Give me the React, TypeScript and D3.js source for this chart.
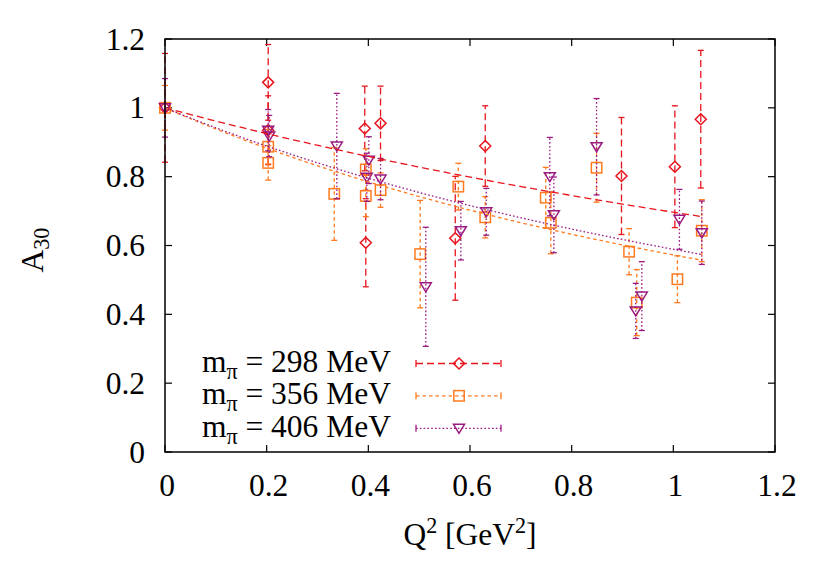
import React from "react";
import * as d3 from "d3";

const xTicks = [0, 0.2, 0.4, 0.6, 0.8, 1, 1.2];
const yTicks = [0, 0.2, 0.4, 0.6, 0.8, 1, 1.2];

const redQ2 = [0, 0.203, 0.203, 0.393, 0.395, 0.424, 0.571, 0.63, 0.898, 1.003, 1.054];
const redA = [1.0, 1.074, 0.935, 0.94, 0.608, 0.955, 0.621, 0.889, 0.802, 0.829, 0.967];
const redErr = [0.158, 0.11, 0.1, 0.123, 0.128, 0.108, 0.18, 0.117, 0.17, 0.177, 0.2];

const orangeQ2 = [0, 0.203, 0.203, 0.333, 0.395, 0.395, 0.424, 0.502, 0.577, 0.63, 0.749, 0.759, 0.849, 0.913, 0.928, 1.008, 1.056];
const orangeA = [1.0, 0.887, 0.84, 0.75, 0.821, 0.744, 0.761, 0.575, 0.771, 0.682, 0.739, 0.666, 0.826, 0.582, 0.434, 0.502, 0.643];
const orangeErr = [0.065, 0.05, 0.05, 0.135, 0.06, 0.06, 0.05, 0.156, 0.068, 0.06, 0.088, 0.09, 0.1, 0.067, 0.096, 0.068, 0.09];

const purpleQ2 = [0, 0.203, 0.205, 0.338, 0.401, 0.397, 0.424, 0.513, 0.582, 0.632, 0.757, 0.765, 0.849, 0.926, 0.938, 1.012, 1.056];
const purpleA = [1.0, 0.935, 0.918, 0.889, 0.848, 0.798, 0.793, 0.48, 0.643, 0.698, 0.8, 0.689, 0.887, 0.41, 0.453, 0.676, 0.637];
const purpleErr = [0.085, 0.06, 0.06, 0.153, 0.068, 0.07, 0.06, 0.173, 0.085, 0.068, 0.114, 0.11, 0.14, 0.08, 0.1, 0.087, 0.092];

const seriesNames = ["298", "356", "406"];
// dipole fit parameters (M^2 in GeV^2) and fit range
const fitMassSq = [5.05, 3.11, 3.3];
const fitRange = [0, 1.055];

const colors = ["#e8141c", "#ff7a1f", "#9a1a82"];
const dashes = ["7,4", "3.5,3", "1.6,2.2"];
const shapes = ["diamond", "square", "triangle"];

const W = 830, H = 581;
const L = 165, R = 775, T = 39, B = 452;
const FONT = "Liberation Serif, Times New Roman, serif";
const FS = 31.5;

function Marker({ shape, x, y, color }: any) {
  if (shape === "diamond") {
    const s = 5.5;
    return <path d={`M${x},${y - s}L${x + s},${y}L${x},${y + s}L${x - s},${y}Z`} fill="none" stroke={color} strokeWidth={1.5} />;
  }
  if (shape === "square") {
    const s = 5.2;
    return <rect x={x - s} y={y - s} width={2 * s} height={2 * s} fill="none" stroke={color} strokeWidth={1.5} />;
  }
  const s = 5.5;
  return <path d={`M${x - s},${y - 4}L${x + s},${y - 4}L${x},${y + 5}Z`} fill="none" stroke={color} strokeWidth={1.5} />;
}

export default function App() {
  const x = d3.scaleLinear().domain([0, 1.2]).range([L, R]);
  const y = d3.scaleLinear().domain([0, 1.2]).range([B, T]);

  const series = [
    { q: redQ2, a: redA, e: redErr },
    { q: orangeQ2, a: orangeA, e: orangeErr },
    { q: purpleQ2, a: purpleA, e: purpleErr },
  ];

  const fitPts = d3.range(0, 61).map((i) => fitRange[0] + (fitRange[1] - fitRange[0]) * i / 60);

  const legendY = [363.5, 395.8, 428.3];
  const cap = 3;
  const txt = { fontFamily: FONT, fontSize: FS, fill: "#000" } as any;
  const sub = { fontSize: FS * 0.7 } as any;

  return (
    <svg width={W} height={H} viewBox={`0 0 ${W} ${H}`} style={{ position: "absolute", left: 0, top: 0, background: "#fff" }}>
      <rect x={0} y={0} width={W} height={H} fill="#fff" />
      {/* ticks */}
      {xTicks.map((t, i) => (
        <g key={"xt" + i}>
          <line x1={x(t)} x2={x(t)} y1={B} y2={B - 7} stroke="#000" strokeWidth={1.2} />
          <line x1={x(t)} x2={x(t)} y1={T} y2={T + 7} stroke="#000" strokeWidth={1.2} />
          <text x={x(t) + 2} y={495.5} style={txt} textAnchor="middle">{String(t)}</text>
        </g>
      ))}
      {yTicks.map((t, i) => (
        <g key={"yt" + i}>
          <line x1={L} x2={L + 7} y1={y(t)} y2={y(t)} stroke="#000" strokeWidth={1.2} />
          <line x1={R} x2={R - 7} y1={y(t)} y2={y(t)} stroke="#000" strokeWidth={1.2} />
          <text x={145} y={y(t) + 10.5} style={txt} textAnchor="end">{String(t)}</text>
        </g>
      ))}

      {/* series */}
      {series.map((s, si) => (
        <g key={"s" + si}>
          {s.q.map((q, i) => (
            <g key={i} stroke={colors[si]} strokeWidth={1.3} strokeDasharray={dashes[si]}>
              <line x1={x(q)} x2={x(q)} y1={y(s.a[i] - s.e[i])} y2={y(s.a[i] + s.e[i])} />
              <line x1={x(q) - cap} x2={x(q) + cap} y1={y(s.a[i] - s.e[i])} y2={y(s.a[i] - s.e[i])} strokeDasharray="none" />
              <line x1={x(q) - cap} x2={x(q) + cap} y1={y(s.a[i] + s.e[i])} y2={y(s.a[i] + s.e[i])} strokeDasharray="none" />
            </g>
          ))}
          {s.q.map((q, i) => (
            <Marker key={"m" + i} shape={shapes[si]} x={x(q)} y={y(s.a[i])} color={colors[si]} />
          ))}
        </g>
      ))}
      {/* fits */}
      {fitMassSq.map((m2, si) => (
        <path key={"f" + si}
          d={d3.line<number>().x((q) => x(q)).y((q) => y(1 / Math.pow(1 + q / m2, 2)))(fitPts) || ""}
          fill="none" stroke={colors[si]} strokeWidth={1.3} strokeDasharray={dashes[si]} />
      ))}

      {/* legend */}
      {seriesNames.map((n, i) => (
        <g key={"l" + i}>
          <text x={391} y={legendY[i] + 8.5} style={txt} textAnchor="end">
            m<tspan style={sub} dy={7}>π</tspan><tspan dy={-7}>{` = ${n} MeV`}</tspan>
          </text>
          <g stroke={colors[i]} strokeWidth={1.3}>
            <line x1={416} x2={501} y1={legendY[i]} y2={legendY[i]} strokeDasharray={dashes[i]} />
            <line x1={416} x2={416} y1={legendY[i] - 3.5} y2={legendY[i] + 3.5} />
            <line x1={501} x2={501} y1={legendY[i] - 3.5} y2={legendY[i] + 3.5} />
          </g>
          <Marker shape={shapes[i]} x={459} y={legendY[i]} color={colors[i]} />
        </g>
      ))}

      {/* frame */}
      <rect x={L} y={T} width={R - L} height={B - T} fill="none" stroke="#000" strokeWidth={1.5} />

      {/* axis labels */}
      <text x={470} y={545} style={txt} textAnchor="middle">
        Q<tspan style={sub} dy={-12}>2</tspan><tspan dy={12}> [GeV</tspan><tspan style={sub} dy={-12}>2</tspan><tspan dy={12}>]</tspan>
      </text>
      <text transform={`translate(43,250) rotate(-90)`} style={txt} textAnchor="middle">
        A<tspan style={sub} dy={6}>30</tspan>
      </text>
    </svg>
  );
}
